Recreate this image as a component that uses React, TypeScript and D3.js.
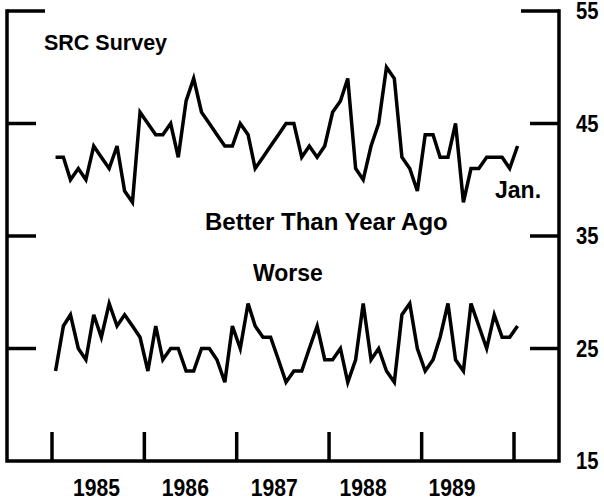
import React from "react";
import * as d3 from "d3";

// Monthly data, Jan 1985 .. Jan 1990
const startYear = 1985;
const betterValues = [
  42, 42, 40, 41, 40, 43, 42, 41, 43, 39, 38, 46,
  45, 44, 44, 45, 42, 47, 49, 46, 45, 44, 43, 43,
  45, 44, 41, 42, 43, 44, 45, 45, 42, 43, 42, 43,
  46, 47, 49, 41, 40, 43, 45, 50, 49, 42, 41, 39,
  44, 44, 42, 42, 45, 38, 41, 41, 42, 42, 42, 41,
  43,
];
const worseValues = [
  23, 27, 28, 25, 24, 28, 26, 29, 27, 28, 27, 26,
  23, 27, 24, 25, 25, 23, 23, 25, 25, 24, 22, 27,
  25, 29, 27, 26, 26, 24, 22, 23, 23, 25, 27, 24,
  24, 25, 22, 24, 29, 24, 25, 23, 22, 28, 29, 25,
  23, 24, 26, 29, 24, 23, 29, 27, 25, 28, 26, 26,
  27,
];
const yearLabels = [1985, 1986, 1987, 1988, 1989];
const yearTicks = [1985, 1986, 1987, 1988, 1989, 1990];
const yTicks = [15, 25, 35, 45, 55];
const labels = {
  title: "SRC Survey",
  better: "Better Than Year Ago",
  worse: "Worse",
  last: "Jan.",
};

const W = 604;
const H = 499;
const FONT = "'Liberation Sans', Arial, Helvetica, sans-serif";

export default function App() {
  const x = d3
    .scaleTime()
    .domain([new Date(1985, 0, 1), new Date(1990, 0, 1)])
    .range([52, 514]);
  const y = d3.scaleLinear().domain([15, 55]).range([461, 11]);
  const labelX = d3
    .scaleLinear()
    .domain([1985, 1989])
    .range([96.5, 452]);

  const dateOf = (i: number) => new Date(startYear, i, 15);
  const line = d3
    .line<number>()
    .x((_, i) => x(dateOf(i)))
    .y((v) => y(v));

  const leftX = 7;
  const rightX = 559;
  const bottomY = y(15);
  const sw = 3.5;

  return (
    <svg
      width={W}
      height={H}
      style={{ position: "absolute", left: 0, top: 0, background: "#fff" }}
    >
      {/* frame */}
      <path
        d={`M${leftX},${y(55) - sw / 2}V${bottomY}H${rightX}V${y(55) - sw / 2}`}
        fill="none"
        stroke="#000"
        strokeWidth={sw}
        strokeLinejoin="miter"
      />
      {/* left & right y ticks */}
      {yTicks
        .filter((t) => t !== 15)
        .map((t) => {
          const len = t === 55 ? 38 : 29;
          return (
            <g key={t}>
              <line x1={leftX} x2={leftX + len} y1={y(t)} y2={y(t)} stroke="#000" strokeWidth={sw} />
              <line x1={rightX - len} x2={rightX} y1={y(t)} y2={y(t)} stroke="#000" strokeWidth={sw} />
            </g>
          );
        })}
      {/* right tick labels */}
      {yTicks.map((t) => (
        <text
          key={t}
          transform={`translate(576,${y(t) + 8}) scale(0.88,1)`}
          fontFamily={FONT}
          fontWeight="bold"
          fontSize={23}
          fill="#000"
        >
          {t}
        </text>
      ))}
      {/* x ticks */}
      {yearTicks.map((yr) => {
        const xx = x(new Date(yr, 0, 1));
        return (
          <line key={yr} x1={xx} x2={xx} y1={bottomY - 29} y2={bottomY} stroke="#000" strokeWidth={sw} />
        );
      })}
      {/* year labels */}
      {yearLabels.map((yr) => (
        <text
          key={yr}
          transform={`translate(${labelX(yr)},496) scale(0.92,1)`}
          textAnchor="middle"
          fontFamily={FONT}
          fontWeight="bold"
          fontSize={23}
          fill="#000"
        >
          {yr}
        </text>
      ))}
      {/* series */}
      <path d={line(betterValues) || ""} fill="none" stroke="#000" strokeWidth={sw} />
      <path d={line(worseValues) || ""} fill="none" stroke="#000" strokeWidth={sw} />
      {/* annotations */}
      <text x={44} y={50} fontFamily={FONT} fontWeight="bold" fontSize={21.5} fill="#000">
        {labels.title}
      </text>
      <text x={205} y={230} fontFamily={FONT} fontWeight="bold" fontSize={24} fill="#000">
        {labels.better}
      </text>
      <text x={253} y={281} fontFamily={FONT} fontWeight="bold" fontSize={23} fill="#000">
        {labels.worse}
      </text>
      <text x={495} y={198} fontFamily={FONT} fontWeight="bold" fontSize={23} fill="#000">
        {labels.last}
      </text>
    </svg>
  );
}
